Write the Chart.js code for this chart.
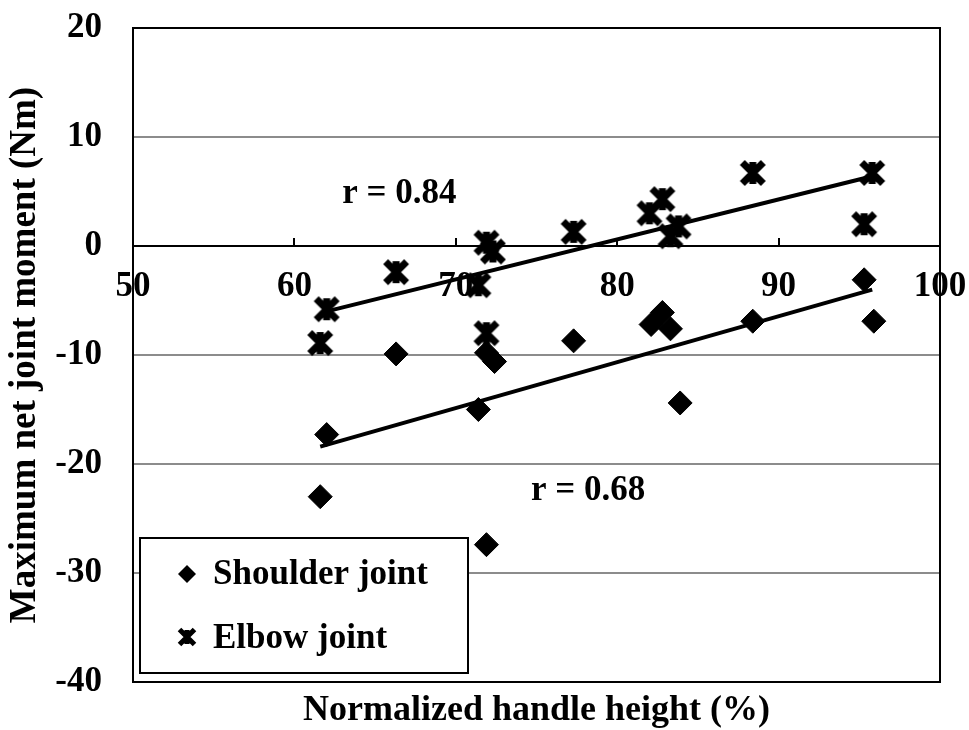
<!DOCTYPE html>
<html>
<head>
<meta charset="utf-8">
<script src="https://cdn.jsdelivr.net/npm/chart.js@4.4.0/dist/chart.umd.min.js"></script>
<style>
  html, body { margin: 0; padding: 0; background: #fff; }
</style>
</head>
<body>
<canvas id="chart" width="969" height="730"></canvas>
<script>
// data
const shoulderX = [61.6, 62.0, 66.3, 71.4, 71.9, 72.4, 71.9, 77.3, 82.1, 82.8, 83.3, 83.9, 88.4, 95.3, 95.9];
const shoulderY = [-23.0, -17.3, -9.9, -15.0, -9.8, -10.6, -27.4, -8.7, -7.2, -6.1, -7.6, -14.4, -6.9, -3.1, -6.9];
const elbowX = [61.6, 62.0, 66.3, 71.4, 71.9, 71.9, 72.3, 77.3, 82.0, 82.8, 83.3, 83.8, 88.4, 95.3, 95.8];
const elbowY = [-8.9, -5.8, -2.4, -3.6, -8.0, 0.3, -0.5, 1.3, 3.0, 4.3, 0.9, 1.8, 6.7, 2.0, 6.7];
const shoulderTrendX = [61.6, 95.8];
const shoulderTrendY = [-18.4, -4.0];
const elbowTrendX = [62.0, 95.8];
const elbowTrendY = [-6.0, 6.4];
const xTicks = [50, 60, 70, 80, 90, 100];
const yTicks = [20, 10, 0, -10, -20, -30, -40];
const seriesNames = ['Shoulder joint', 'Elbow joint'];
const rTexts = ['r = 0.84', 'r = 0.68'];
const rX = [66.5, 78.2];
const rY = [4.8, -22.5];

const FONT = "'Liberation Serif', 'Times New Roman', serif";
const pts = (xs, ys) => xs.map((x, i) => ({ x: x, y: ys[i] }));

// excel-like "star" marker: X with a vertical bar
function makeStar(size, lw) {
    const c = document.createElement('canvas');
    c.width = size; c.height = size;
    const g = c.getContext('2d');
    g.strokeStyle = '#000';
    g.lineWidth = lw;
    const m = lw / 2;
    g.beginPath();
    g.moveTo(m, m); g.lineTo(size - m, size - m);
    g.moveTo(size - m, m); g.lineTo(m, size - m);
    g.moveTo(size / 2, 3); g.lineTo(size / 2, size - 3);
    g.stroke();
    return c;
}
const starBig = makeStar(28, 7);
const starSmall = makeStar(20, 5);

const frame = {
    id: 'frame',
    beforeDatasetsDraw(chart) {
        const { ctx, chartArea: a } = chart;
        ctx.save();
        ctx.strokeStyle = '#000';
        ctx.lineWidth = 2;
        ctx.strokeRect(a.left, a.top, a.right - a.left, a.bottom - a.top);
        ctx.restore();
    }
};

const notes = {
    id: 'notes',
    afterDatasetsDraw(chart) {
        const { ctx, scales: { x, y }, chartArea: a } = chart;
        ctx.save();
        ctx.fillStyle = '#000';
        ctx.font = 'bold 35px ' + FONT;
        ctx.textAlign = 'center';
        ctx.textBaseline = 'middle';
        rTexts.forEach((t, i) => ctx.fillText(t, x.getPixelForValue(rX[i]), y.getPixelForValue(rY[i])));

        // legend box
        const bx = a.left + 7, by = a.bottom - 144, bw = 328, bh = 135;
        ctx.fillStyle = '#fff';
        ctx.fillRect(bx, by, bw, bh);
        ctx.strokeStyle = '#000';
        ctx.lineWidth = 2;
        ctx.strokeRect(bx, by, bw, bh);
        ctx.fillStyle = '#000';
        Chart.helpers.drawPoint(ctx, { pointStyle: 'rectRot', radius: 9, borderWidth: 0 }, bx + 47, by + 36);
        ctx.drawImage(starSmall, bx + 37, by + 89);
        ctx.textAlign = 'left';
        ctx.textBaseline = 'alphabetic';
        ctx.fillText(seriesNames[0], bx + 73, by + 46);
        ctx.fillText(seriesNames[1], bx + 73, by + 110);
        ctx.restore();
    }
};

new Chart(document.getElementById('chart'), {
    type: 'scatter',
    data: {
        datasets: [
            { type: 'line', data: pts(elbowTrendX, elbowTrendY), borderColor: '#000', borderWidth: 4, pointRadius: 0, showLine: true, order: 0 },
            { type: 'line', data: pts(shoulderTrendX, shoulderTrendY), borderColor: '#000', borderWidth: 4, pointRadius: 0, showLine: true, order: 0 },
            { label: seriesNames[0], data: pts(shoulderX, shoulderY), pointStyle: 'rectRot', pointRadius: 12, backgroundColor: '#000', borderColor: '#000', borderWidth: 1, order: 1 },
            { label: seriesNames[1], data: pts(elbowX, elbowY), pointStyle: starBig, pointRadius: 13, backgroundColor: '#000', borderColor: '#000', order: 1 }
        ]
    },
    options: {
        responsive: false,
        animation: false,
        layout: { padding: { top: 28, right: 29, bottom: 0, left: 0 } },
        plugins: {
            legend: { display: false },
            tooltip: { enabled: false },
            title: {
                display: true, position: 'bottom', fullSize: false, text: 'Normalized handle height (%)', color: '#000',
                font: { family: FONT, size: 36, weight: 'bold', lineHeight: 1 }, padding: { top: 11, bottom: 1 }
            }
        },
        scales: {
            x: {
                type: 'linear', min: 50, max: 100, position: { y: 0 },
                afterBuildTicks: s => { s.ticks = xTicks.map(v => ({ value: v })); },
                afterFit: s => { s.height = 0; s.paddingLeft = 0; s.paddingRight = 0; },
                grid: { drawOnChartArea: false, drawTicks: true, tickLength: -9, color: '#000', lineWidth: 2 },
                border: { display: true, color: '#000', width: 2 },
                ticks: { color: '#000', font: { family: FONT, size: 35, weight: 'bold' }, padding: 29, maxRotation: 0, autoSkip: false }
            },
            y: {
                type: 'linear', min: -40, max: 20,
                afterBuildTicks: s => { s.ticks = yTicks.map(v => ({ value: v })); },
                afterFit: s => { s.width = 133; s.paddingTop = 0; s.paddingBottom = 0; },
                grid: { color: '#8c8c8c', lineWidth: 2, drawTicks: false },
                border: { display: false },
                ticks: { color: '#000', font: { family: FONT, size: 35, weight: 'bold' }, padding: 31 },
                title: {
                    display: true, text: 'Maximum net joint moment (Nm)', color: '#000',
                    font: { family: FONT, size: 37, weight: 'bold' }, padding: { top: 3 }
                }
            }
        }
    },
    plugins: [frame, notes]
});
</script>
</body>
</html>
